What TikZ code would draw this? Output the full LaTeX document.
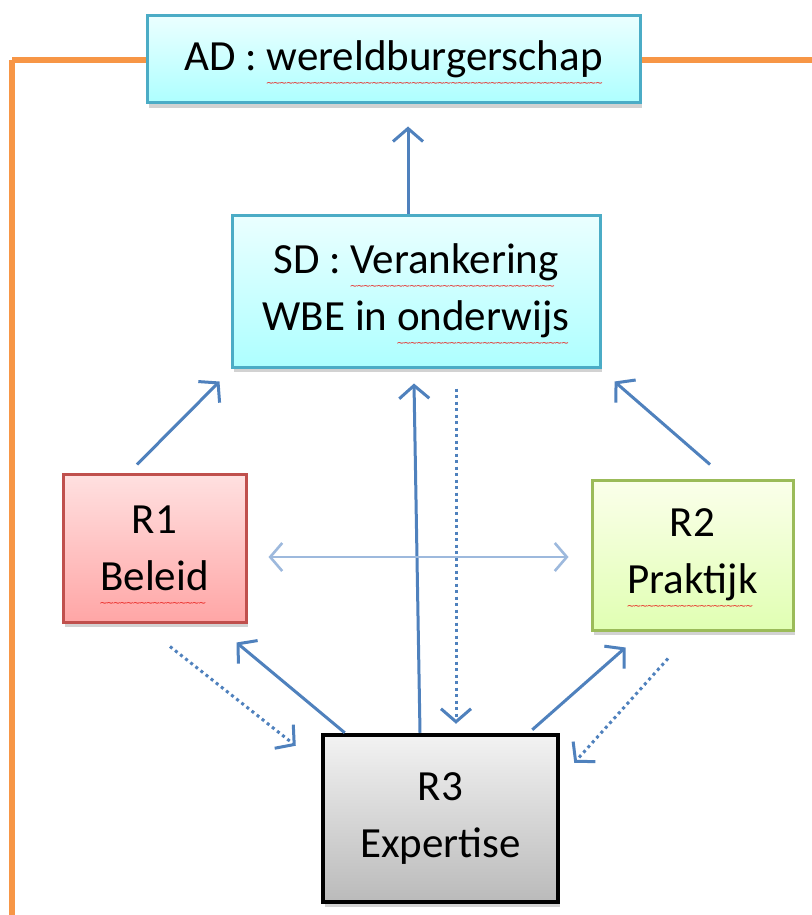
\documentclass[tikz,border=0pt]{standalone}
\usepackage{fontspec}
\setmainfont{Carlito}
\newfontfamily\wavefont{DejaVu Sans}
\usetikzlibrary{arrows.meta,shadows}
\definecolor{arrowblue}{HTML}{4F81BD}
\definecolor{lightarrow}{HTML}{9DB9DD}
\definecolor{orangeline}{HTML}{F79646}
\definecolor{cyanborder}{HTML}{4BACC6}
\definecolor{redborder}{HTML}{C0504D}
\definecolor{greenborder}{HTML}{9BBB59}
\definecolor{squiggle}{HTML}{E8201C}
\newsavebox\spbox
\newcommand\spellerr[1]{\sbox\spbox{#1}\rlap{\raisebox{-16pt}[0pt][0pt]{\hbox to \wd\spbox{\color{squiggle}\wavefont\fontsize{10}{10}\selectfont\leaders\hbox{\kern-0.9pt\char"7E\kern-0.9pt}\hfill}}}\usebox\spbox}
\tikzset{
  boxbase/.style={draw, align=center, inner sep=0pt, font=\fontsize{43}{57}\selectfont,
    drop shadow={opacity=0.35, shadow xshift=2pt, shadow yshift=-5pt}},
  cyanbox/.style={boxbase, draw=cyanborder, line width=3pt, top color=cyan!8!white, bottom color=cyan!32!white},
  redbox/.style={boxbase, draw=redborder, line width=3pt, top color=red!12!white, bottom color=red!35!white},
  greenbox/.style={boxbase, draw=greenborder, line width=3pt, top color=green!20!yellow!8!white, bottom color=green!40!yellow!30!white},
  greybox/.style={boxbase, draw=black, line width=4.5pt, top color=black!5, bottom color=black!27},
  arr/.style={draw=arrowblue, line width=3pt, -{Straight Barb[length=13pt,width=30pt,line width=3pt]}},
  dotarr/.style={arr, dash pattern=on 3pt off 3.5pt},
  lightarr/.style={draw=lightarrow, line width=2.6pt, {Straight Barb[length=12pt,width=28pt,line width=2.6pt]}-{Straight Barb[length=12pt,width=28pt,line width=2.6pt]}},
  orange/.style={draw=orangeline, line width=6pt}
}
\begin{document}
\begin{tikzpicture}[x=1pt,y=-1pt]
\useasboundingbox (0,0) rectangle (811,915);
\fill[white] (0,0) rectangle (811,915);
\coordinate (cornerL) at (12,60);
\coordinate (endL) at (12,920);
\coordinate (endR) at (815,60);
\draw[orange] (cornerL) -- (endL);
\draw[orange] (393,60) -- (cornerL);
\draw[orange] (393,60) -- (endR);

\node[cyanbox, minimum width=493pt, minimum height=87pt] (AD) at (393.5,59.5) {AD : \spellerr{wereldburgerschap}};
\node[cyanbox, minimum width=368pt, minimum height=152pt] (SD) at (416,291) {SD : \spellerr{Verankering}\\WBE in \spellerr{onderwijs}};
\node[redbox, minimum width=183pt, minimum height=148pt] (R1) at (154.5,548) {R1\\\spellerr{Beleid}};
\node[greenbox, minimum width=201pt, minimum height=150pt] (R2) at (692.5,555) {R2\\\spellerr{Praktijk}};
\node[greybox, minimum width=235pt, minimum height=167pt] (R3) at (440.5,818.5) {R3\\Expertise};

\draw[arr] ([xshift=-8pt]SD.north) -- ([xshift=14.5pt,yshift=-22pt]AD.south);
\draw[arr] ([xshift=-17.5pt,yshift=8pt]R1.north) -- ([xshift=-11pt,yshift=-13pt]SD.south west);
\draw[arr] ([xshift=17.5pt,yshift=14pt]R2.north) -- ([xshift=13pt,yshift=-13pt]SD.south east);
\draw[arr] ([xshift=-20.5pt]R3.north) -- ([xshift=-2pt,yshift=-15pt]SD.south);
\draw[dotarr] ([xshift=40pt,yshift=-20pt]SD.south) -- ([xshift=15.5pt,yshift=9pt]R3.north);
\draw[arr] ([xshift=24pt]R3.north west) -- ([xshift=-11pt,yshift=-19pt]R1.south east);
\draw[arr] ([xshift=-28pt,yshift=3pt]R3.north east) -- ([xshift=35pt,yshift=-16pt]R2.south west);
\draw[dotarr] ([xshift=15.5pt,yshift=-23pt]R1.south) -- ([xshift=-25pt,yshift=-13pt]R3.north west);
\draw[dotarr] ([xshift=-24.5pt,yshift=-27pt]R2.south) -- ([xshift=14pt,yshift=-30pt]R3.north east);
\draw[lightarr] ([xshift=21pt,yshift=-9pt]R1.east) -- ([xshift=-22pt,yshift=-2pt]R2.west);
\end{tikzpicture}
\end{document}
